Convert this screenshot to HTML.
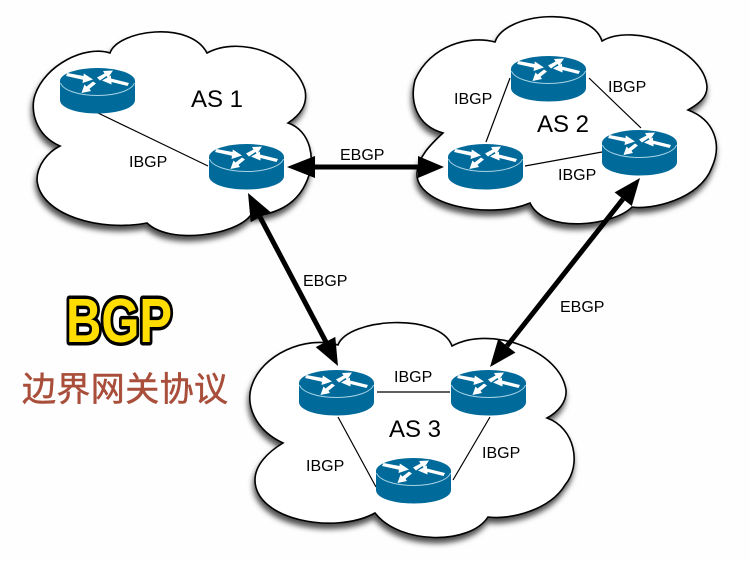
<!DOCTYPE html>
<html>
<head>
<meta charset="utf-8">
<style>
html,body{margin:0;padding:0;background:#fefefe;}
svg{display:block;filter:blur(0.3px);}
text{font-family:"Liberation Sans","Noto Sans CJK SC",sans-serif;}
.l{font-size:16px;fill:#000;}
.a{font-size:24px;fill:#000;}
.c{fill:#fff;stroke:#000;stroke-width:1.6;filter:url(#sh);}
.t{stroke:#000;stroke-width:1.2;fill:none;}
.b{stroke:#000;stroke-width:5;fill:none;}
</style>
</head>
<body>
<svg width="750" height="561" viewBox="0 0 750 561" xmlns="http://www.w3.org/2000/svg">
<defs>
<filter id="sh" x="-15%" y="-15%" width="130%" height="130%">
<feDropShadow dx="-1" dy="5" stdDeviation="3" flood-color="#000" flood-opacity="0.7"/>
</filter>
<g id="r">
<path d="M0 13 V32 C0 40 17 45.500 37.500 45.500 S75 40 75 32 V13 Z" fill="#006a9a"/>
<ellipse cx="37.500" cy="13" rx="37.500" ry="13" fill="#006a9a"/>
<path d="M0.500 15 C3 22 18 27.500 37.500 27.500 S72 22 74.500 15" fill="none" stroke="#a8d4e6" stroke-width="1"/>
<path d="M6 8 L7.500 5 L23.500 8 L23.800 5.500 L33 11.500 L22.500 15 L23 11.800 Z M37 9.500 L44.500 5.500 L43 3 L53 2.500 L48 10 L46.500 8 L40 12.500 Z M69 15 L67.500 18 L51.500 14 L51.500 16.500 L42 12.500 L51 7.500 L51 10.500 Z M36 15.500 L29.500 20.800 L31 23 L21.500 25 L24.500 16.500 L26.500 18.500 L33 13.500 Z" fill="#fff"/>
</g>
</defs>

<rect width="750" height="561" fill="#fefefe"/>

<path class="c" d="M110 53 C118 30 190 20 207 53 C240 35 295 55 305 90 C308 105 300 115 288 123 C310 130 318 160 305 185 C295 205 275 215 250 216 C235 235 170 245 147 223 C100 232 40 215 37 180 C37 165 48 152 60 146 C35 135 30 110 35 95 C45 65 85 45 110 53 Z"/>
<path class="c" d="M495 42 C505 12 590 5 602 41 C635 22 705 50 707 87 C707 97 700 103 688 110 C715 120 722 145 712 167 C700 200 650 210 632 207 C615 225 545 235 530 203 C490 220 415 205 417 173 C418 157 430 145 443 133 C415 125 410 100 415 80 C430 45 470 35 495 42 Z"/>
<path class="c" d="M338 345 C348 318 440 312 452 346 C490 325 560 350 566 390 C567 402 558 412 547 418 C575 428 582 465 565 485 C550 510 510 520 488 517 C470 545 400 545 375 513 C335 535 255 520 255 480 C255 465 268 452 283 443 C255 430 245 405 252 385 C262 355 305 335 338 345 Z"/>

<path class="t" d="M98 113 L208 166"/>
<path class="t" d="M510 78 L486 142"/>
<path class="t" d="M589 78 L641 128"/>
<path class="t" d="M525 166 L602 152"/>
<path class="t" d="M377 392 L450 392"/>
<path class="t" d="M338 417 L376 487"/>
<path class="t" d="M490 417 L453 480"/>

<use href="#r" x="60" y="68"/>
<use href="#r" x="209" y="144"/>
<use href="#r" x="511" y="56"/>
<use href="#r" x="448" y="144"/>
<use href="#r" x="602" y="130"/>
<use href="#r" x="299" y="370"/>
<use href="#r" x="451" y="370"/>
<use href="#r" x="376" y="458"/>

<path class="b" d="M312 167 H422"/>
<path class="b" d="M260 217 L326 342"/>
<path class="b" d="M623 199 L507 346"/>
<polygon points="287,167 315,156 315,178"/>
<polygon points="444,167 418,156 418,178"/>
<polygon points="248,193 270.300,211.900 250.700,222.100"/>
<polygon points="338,366 335.300,336.900 315.700,347.100"/>
<polygon points="640,178 631.800,206 614.600,192.400"/>
<polygon points="490,367 515.400,352.600 498.200,339"/>

<text class="a" x="191" y="107">AS 1</text>
<text class="a" x="537" y="132">AS 2</text>
<text class="a" x="389" y="437">AS 3</text>

<text class="l" x="129" y="167">IBGP</text>
<text class="l" x="340" y="160">EBGP</text>
<text class="l" x="454" y="104">IBGP</text>
<text class="l" x="608" y="92">IBGP</text>
<text class="l" x="558" y="180">IBGP</text>
<text class="l" x="303" y="286">EBGP</text>
<text class="l" x="560" y="312">EBGP</text>
<text class="l" x="394" y="382">IBGP</text>
<text class="l" x="306" y="471">IBGP</text>
<text class="l" x="482" y="458">IBGP</text>

<text x="66" y="342" font-size="62" font-weight="700" textLength="106" lengthAdjust="spacingAndGlyphs" fill="#ffdd00" stroke="#000" stroke-width="7" stroke-linejoin="round" paint-order="stroke">BGP</text>
<text x="22" y="401" font-size="34" fill="#a84e3a" stroke="#a84e3a" stroke-width="0.5" textLength="206">边界网关协议</text>
</svg>
</body>
</html>
